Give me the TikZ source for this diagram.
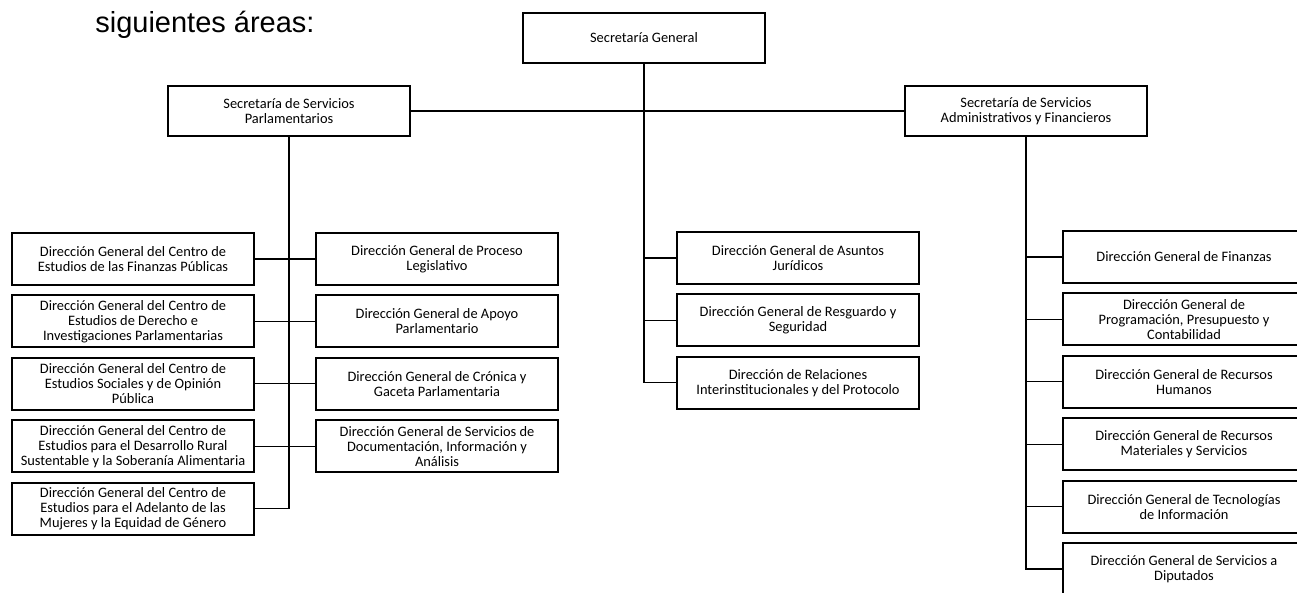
\documentclass[tikz,border=0pt]{standalone}
\usepackage{fontspec}
\setmainfont{Carlito}
\newfontfamily\titlefont{Liberation Sans}
\usetikzlibrary{positioning}

\begin{document}
\begin{tikzpicture}[x=0.02cm, y=-0.02cm, node distance = 0.17cm,
    D/.style = {rectangle, draw=#1, line width=1.1pt, minimum width=4.84cm,
        minimum height=1.04cm, inner sep=1pt, align=center,
        font=\fontsize{8.2}{8.6}\selectfont},
    D/.default=black,
    L/.style = {line width=0.7pt}]
    \useasboundingbox (0,0) rectangle (1297,592);
    \clip (0,0) rectangle (1297,592);
    \node (titulo) [anchor=base west, inner sep=0pt,
                font=\titlefont\fontsize{16.5}{20}\selectfont] at (95,32) {siguientes áreas:};
    % secretarias
    \node (sg) [D, minimum height=1.0cm] at (644,38) {Secretaría General};
    \node (ssp) [D, minimum height=1.0cm] at (289,111) {Secretaría de Servicios\\Parlamentarios};
    \node (ssaf) [D, minimum height=1.0cm] at (1026,111) {Secretaría de Servicios\\Administrativos y Financieros};
    % centros de estudios
    \node (l1) [D] at (133,259) {Dirección General del Centro de\\Estudios de las Finanzas Públicas};
    \node (l2) [D, below=of l1] {Dirección General del Centro de\\Estudios de Derecho e\\Investigaciones Parlamentarias};
    \node (l3) [D, below=of l2] {Dirección General del Centro de\\Estudios Sociales y de Opinión\\Pública};
    \node (l4) [D, below=of l3] {Dirección General del Centro de\\Estudios para el Desarrollo Rural\\Sustentable y la Soberanía Alimentaria};
    \node (l5) [D, below=of l4] {Dirección General del Centro de\\Estudios para el Adelanto de las\\Mujeres y la Equidad de Género};
    % servicios parlamentarios
    \node (m1) [D] at (437,259) {Dirección General de Proceso\\Legislativo};
    \node (m2) [D, below=of m1] {Dirección General de Apoyo\\Parlamentario};
    \node (m3) [D, below=of m2] {Dirección General de Crónica y\\Gaceta Parlamentaria};
    \node (m4) [D, below=of m3] {Dirección General de Servicios de\\Documentación, Información y\\Análisis};
    % secretaria general
    \node (c1) [D] at (798,258) {Dirección General de Asuntos\\Jurídicos};
    \node (c2) [D, below=of c1] {Dirección General de Resguardo y\\Seguridad};
    \node (c3) [D, below=of c2] {Dirección de Relaciones\\Interinstitucionales y del Protocolo};
    % servicios administrativos
    \node (r1) [D] at (1184,257) {Dirección General de Finanzas};
    \node (r2) [D, below=of r1] {Dirección General de\\Programación, Presupuesto y\\Contabilidad};
    \node (r3) [D, below=of r2] {Dirección General de Recursos\\Humanos};
    \node (r4) [D, below=of r3] {Dirección General de Recursos\\Materiales y Servicios};
    \node (r5) [D, below=of r4] {Dirección General de Tecnologías\\de Información};
    \node (r6) [D, below=of r5] {Dirección General de Servicios a\\Diputados};

    \draw[L] (ssp.east) -- (ssaf.west);
    \draw[L] (sg.south) |- (c3.west);
    \draw[L] (sg.south |- c1.west) -- (c1.west);
    \draw[L] (sg.south |- c2.west) -- (c2.west);

    \draw[L] (ssp.south) |- (l5.east);
    \draw[L] (l1.east) -- (m1.west);
    \draw[L] (l2.east) -- (m2.west);
    \draw[L] (l3.east) -- (m3.west);
    \draw[L] (l4.east) -- (m4.west);

    \draw[L] (ssaf.south) |- (r6.west);
    \draw[L] (ssaf.south |- r1.west) -- (r1.west);
    \draw[L] (ssaf.south |- r2.west) -- (r2.west);
    \draw[L] (ssaf.south |- r3.west) -- (r3.west);
    \draw[L] (ssaf.south |- r4.west) -- (r4.west);
    \draw[L] (ssaf.south |- r5.west) -- (r5.west);
\end{tikzpicture}
\end{document}
